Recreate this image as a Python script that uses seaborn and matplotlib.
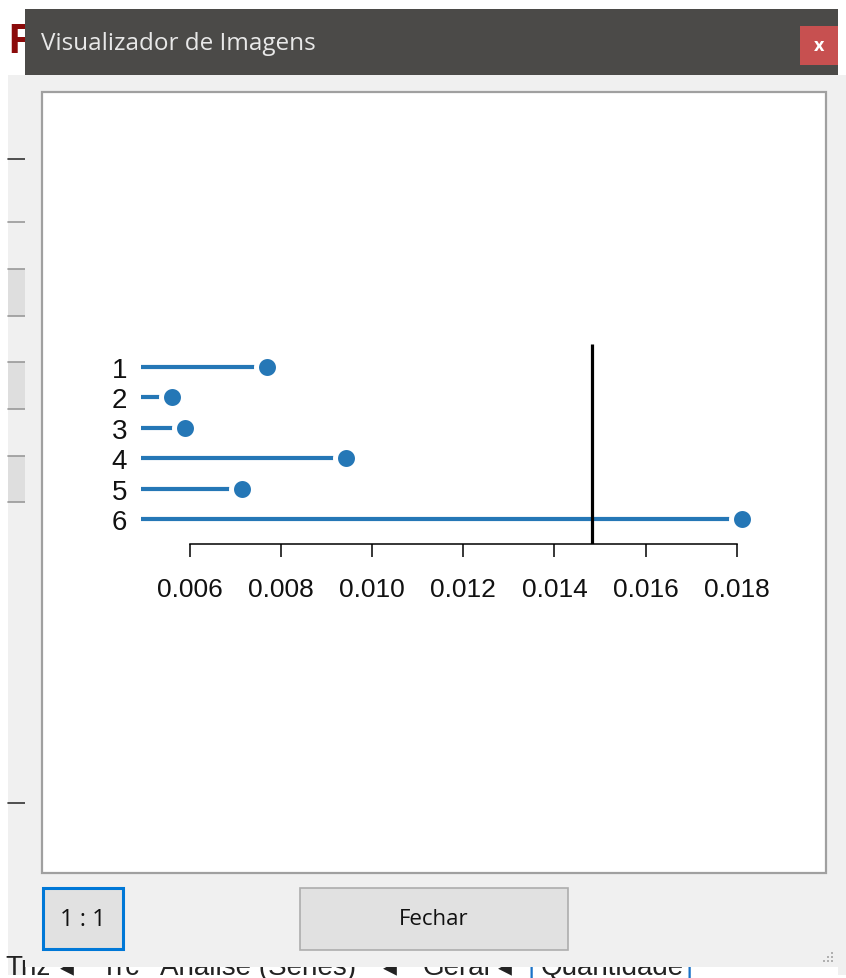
import numpy as np
import pandas as pd
import matplotlib
matplotlib.use("Agg")
import matplotlib.pyplot as plt
from matplotlib.patches import Rectangle
import seaborn as sns

# Dados
itens = [1, 2, 3, 4, 5, 6]
valores = [0.00769, 0.00561, 0.00589, 0.00942, 0.00714, 0.01811]
limite = 0.01482          # linha vertical preta
inicio = 0.00493          # origem das hastes
marcas_x = [0.006, 0.008, 0.010, 0.012, 0.014, 0.016, 0.018]
rotulos_x = ["0.006", "0.008", "0.010", "0.012", "0.014", "0.016", "0.018"]

titulo = "Visualizador de Imagens"
texto_botao_zoom = "1 : 1"
texto_botao_fechar = "Fechar"
# barra de navegacao da aplicacao, parcialmente escondida pela janela
rodape = [("Triz", 5, "#222222"), ("\u25c2", 60, "#222222"), ("Trc", 100, "#222222"),
          ("Analise (Series)", 160, "#222222"), ("\u25c2", 383, "#222222"),
          ("Gerar", 423, "#222222"), ("\u25c2", 498, "#222222"), ("|", 528, "#1a73c8"),
          ("Quantidade", 541, "#222222"), ("|", 686, "#1a73c8")]

df = pd.DataFrame({"item": itens, "valor": valores})

sns.set_theme(style="white")
plt.rcParams["font.family"] = ["Liberation Sans", "DejaVu Sans"]

W, H = 846, 979
fig = plt.figure(figsize=(W / 100, H / 100), dpi=100)
fig.patch.set_facecolor("white")

# --- janela (coordenadas em pixels) ---
bg = fig.add_axes([0, 0, 1, 1])
bg.set_xlim(0, W)
bg.set_ylim(H, 0)
bg.axis("off")

def ret(x, y, w, h, fc, ec="none", lw=0, z=1):
    bg.add_patch(Rectangle((x, y), w, h, facecolor=fc, edgecolor=ec, linewidth=lw, zorder=z))

# aplicacao por tras da janela
ret(0, 0, W, H, "white", z=0)
ret(8, 76, 17, 900, "#f0f0f0", z=0.5)
for y0, y1 in [(270, 317), (363, 410), (457, 503)]:
    ret(8, y0, 17, y1 - y0, "#dedede", z=0.6)
for y, c in [(160, "#333333"), (223, "#999999"), (270, "#999999"), (317, "#999999"),
             (363, "#999999"), (410, "#999999"), (457, "#999999"), (503, "#999999"),
             (804, "#333333")]:
    bg.plot([8, 25], [y, y], color=c, lw=1.2, zorder=0.7)
bg.text(8, 42, "R", color="#8b0b0b", fontsize=30, fontweight="bold",
        va="center", ha="left", zorder=0.8)
ret(838, 76, 8, 900, "#f0f0f0", z=0.5)
for txt, x, c in rodape:
    bg.text(x, 975, txt, color=c, fontsize=20, va="baseline", ha="left", zorder=0.8)

# janela
ret(25, 10, 813, 66, "#4b4a48", z=2)
ret(25, 76, 813, 892, "#f0f0f0", z=2)
bg.text(41, 44, titulo, color="#e8e8e8", fontsize=17.5, family=["Open Sans", "DejaVu Sans"],
        va="center", ha="left", zorder=3)
ret(800, 27, 38, 39, "#c75050", z=3)
bg.text(819, 46, "x", color="white", fontsize=13, fontweight="bold",
        family=["Open Sans", "DejaVu Sans"], va="center", ha="center", zorder=4)

# painel da imagem
ret(42, 93, 784, 781, "white", ec="#a0a0a0", lw=1.6, z=3)

# botoes
ret(43, 889, 80, 61, "#e1e1e1", ec="#0078d7", lw=2.2, z=3)
bg.text(83, 920, texto_botao_zoom, fontsize=17, family=["Open Sans", "DejaVu Sans"],
        va="center", ha="center", color="#111111", zorder=4)
ret(300, 889, 268, 62, "#e1e1e1", ec="#adadad", lw=1.2, z=3)
bg.text(434, 920, texto_botao_fechar, fontsize=16, family=["Open Sans", "DejaVu Sans"],
        va="center", ha="center", color="#111111", zorder=4)
for dx, dy in [(0, 0), (-4, 0), (0, -4), (-8, 0), (-4, -4), (0, -8)]:
    ret(831 + dx, 961 + dy, 2, 2, "#b0b0b0", z=3)

# --- grafico ---
px = 45.58 / 0.001  # pixels por unidade
x_esq = 141
x_dir = 760
ax = fig.add_axes([x_esq / W, 1 - 545 / H, (x_dir - x_esq) / W, 205 / H])
ax.set_zorder(5)
ax.patch.set_alpha(0)
ax.set_xlim(inicio, inicio + (x_dir - x_esq) / px)
ax.set_ylim(6.82, 0.08)

azul = "#2577b6"
ax.hlines(df["item"], inicio, df["valor"], color=azul, lw=3, zorder=2)
ax.vlines(limite, 0.24, 6.82, color="black", lw=2.3, zorder=3)
sns.scatterplot(data=df, x="valor", y="item", ax=ax, color=azul, s=250,
                edgecolor="white", linewidth=3.6, zorder=4, clip_on=False, legend=False)

for s in ["top", "right", "left"]:
    ax.spines[s].set_visible(False)
ax.spines["bottom"].set_bounds(marcas_x[0], marcas_x[-1])
ax.spines["bottom"].set_linewidth(1.1)
ax.spines["bottom"].set_color("black")
ax.set_xticks(marcas_x)
ax.set_xticklabels(rotulos_x)
ax.tick_params(axis="x", direction="out", length=9.5, width=1.1, color="black",
               labelsize=19, pad=14, bottom=True)
ax.set_yticks(itens)
ax.set_yticklabels([str(i) for i in itens])
ax.tick_params(axis="y", length=0, labelsize=20, pad=10)
for lab in ax.get_xticklabels() + ax.get_yticklabels():
    lab.set_color("#111111")
ax.set_xlabel("")
ax.set_ylabel("")
ax.grid(False)

fig.savefig("out.png", dpi=100)
